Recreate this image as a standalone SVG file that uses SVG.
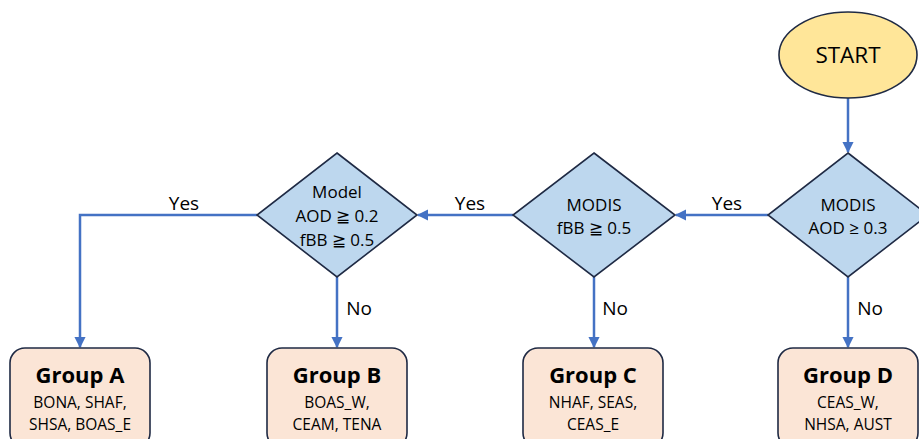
<svg xmlns="http://www.w3.org/2000/svg" width="919" height="439" viewBox="0 0 919 439">
  <style>
    text { font-family: "Open Sans", "Liberation Sans", sans-serif; fill: #000; text-anchor: middle; }
    .dec { fill: #BDD7EE; stroke: #1F2A44; stroke-width: 1.6; }
    .grp { fill: #FBE5D6; stroke: #1F2A44; stroke-width: 1.6; }
    .start { fill: #FFE699; stroke: #1F2A44; stroke-width: 1.6; }
    .edge { fill: none; stroke: #4472C4; stroke-width: 2.5; }
    .lbl { font-size: 19px; }
    .dtxt { font-size: 17px; }
    .gtitle { font-size: 22px; font-weight: bold; }
    .gsub { font-size: 15.5px; }
  </style>
  <defs>
    <marker id="arrow" viewBox="0 0 10 10" refX="9" refY="5" markerWidth="4.6" markerHeight="4.6" orient="auto">
      <path d="M0,0 L10,5 L0,10 z" fill="#4472C4"/>
    </marker>
  </defs>

  <g id="connectors">
    <line class="edge" x1="848" y1="98" x2="848" y2="152" marker-end="url(#arrow)"/>
    <line class="edge" x1="768" y1="215" x2="676" y2="215" marker-end="url(#arrow)"/>
    <line class="edge" x1="513" y1="215" x2="418" y2="215" marker-end="url(#arrow)"/>
    <polyline class="edge" points="257,215 80,215 80,347" marker-end="url(#arrow)"/>
    <line class="edge" x1="337" y1="277" x2="337" y2="347" marker-end="url(#arrow)"/>
    <line class="edge" x1="594" y1="277" x2="594" y2="347" marker-end="url(#arrow)"/>
    <line class="edge" x1="848" y1="277" x2="848" y2="347" marker-end="url(#arrow)"/>
    <text class="lbl" x="184" y="210">Yes</text>
    <text class="lbl" x="470" y="210">Yes</text>
    <text class="lbl" x="727" y="210">Yes</text>
    <text class="lbl" x="359" y="315">No</text>
    <text class="lbl" x="615" y="315">No</text>
    <text class="lbl" x="870" y="315">No</text>
  </g>

  <g id="start">
    <ellipse class="start" cx="848" cy="55" rx="69" ry="43"/>
    <text x="848" y="63" font-size="22.5">START</text>
  </g>

  <g id="modis-aod">
    <polygon class="dec" points="848,153 928,215 848,277 768,215"/>
    <text class="dtxt" x="848" y="211">MODIS</text>
    <text class="dtxt" x="848" y="234">AOD ≥ 0.3</text>
  </g>

  <g id="modis-fbb">
    <polygon class="dec" points="594,153 675,215 594,277 513,215"/>
    <text class="dtxt" x="594" y="211">MODIS</text>
    <text class="dtxt" x="594" y="234">fBB ≧ 0.5</text>
  </g>

  <g id="model">
    <polygon class="dec" points="337,153 417,215 337,277 257,215"/>
    <text class="dtxt" x="337" y="198">Model</text>
    <text class="dtxt" x="337" y="222">AOD ≧ 0.2</text>
    <text class="dtxt" x="337" y="246">fBB ≧ 0.5</text>
  </g>

  <g id="group-a">
    <rect class="grp" x="10" y="348" width="140" height="100" rx="15"/>
    <text class="gtitle" x="80" y="383">Group A</text>
    <text class="gsub" x="80" y="408">BONA, SHAF,</text>
    <text class="gsub" x="80" y="430">SHSA, BOAS_E</text>
  </g>

  <g id="group-b">
    <rect class="grp" x="267" y="348" width="140" height="100" rx="15"/>
    <text class="gtitle" x="337" y="383">Group B</text>
    <text class="gsub" x="337" y="408">BOAS_W,</text>
    <text class="gsub" x="337" y="430">CEAM, TENA</text>
  </g>

  <g id="group-c">
    <rect class="grp" x="523" y="348" width="140" height="100" rx="15"/>
    <text class="gtitle" x="593" y="383">Group C</text>
    <text class="gsub" x="593" y="408">NHAF, SEAS,</text>
    <text class="gsub" x="593" y="430">CEAS_E</text>
  </g>

  <g id="group-d">
    <rect class="grp" x="778" y="348" width="140" height="100" rx="15"/>
    <text class="gtitle" x="848" y="383">Group D</text>
    <text class="gsub" x="848" y="408">CEAS_W,</text>
    <text class="gsub" x="848" y="430">NHSA, AUST</text>
  </g>
</svg>
